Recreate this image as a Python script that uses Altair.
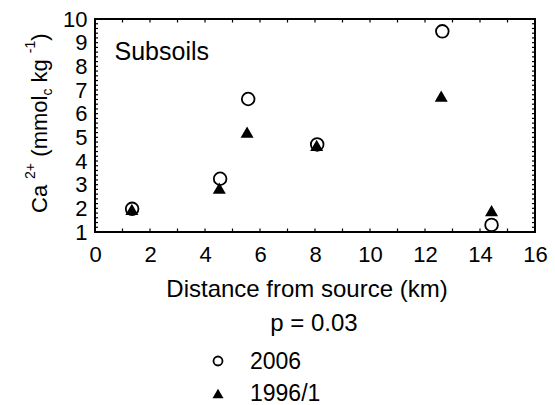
import altair as alt
import pandas as pd

# ---- data ----
dist_2006 = [1.35, 4.55, 5.57, 8.08, 12.63, 14.42]
ca_2006 = [1.98, 3.25, 6.62, 4.70, 9.48, 1.30]
dist_1996 = [1.34, 4.52, 5.53, 8.06, 12.59, 14.42]
ca_1996 = [1.96, 2.85, 5.22, 4.66, 6.74, 1.90]

series_names = ["2006", "1996/1"]
x_labels = [0, 2, 4, 6, 8, 10, 12, 14, 16]
y_labels = [1, 2, 3, 4, 5, 6, 7, 8, 9, 10]
x_minor = list(range(0, 17))
y_minor = [round(1 + 0.2 * i, 1) for i in range(46)]

FONT = "Liberation Sans"
W, H = 440, 213

xs = alt.Scale(domain=[0, 16], nice=False, zero=False)
ys = alt.Scale(domain=[1, 10], nice=False, zero=False)

xaxis = alt.Axis(values=x_labels, tickSize=0, domain=False, grid=False,
                 labelFont=FONT, labelFontSize=22, labelColor="black",
                 labelPadding=12, labelFlush=False, labelAngle=0, title=None)
yaxis = alt.Axis(values=y_labels, tickSize=0, domain=False, grid=False,
                 labelFont=FONT, labelFontSize=22, labelColor="black",
                 labelPadding=8, labelFlush=False, title=None)


def X(f):
    return alt.X(f, scale=xs, axis=xaxis, title=None)


def Y(f):
    return alt.Y(f, scale=ys, axis=yaxis, title=None)


d2006 = pd.DataFrame({"d": dist_2006, "ca": ca_2006})
d1996 = pd.DataFrame({"d": dist_1996, "ca": ca_1996})

circles = alt.Chart(d2006).mark_point(
    shape="circle", filled=False, color="black", strokeWidth=1.8, size=160, opacity=1
).encode(x=X("d:Q"), y=Y("ca:Q"))

triangles = alt.Chart(d1996).mark_point(
    shape="triangle-up", filled=True, color="black", size=169, opacity=1
).encode(x=X("d:Q"), y=Y("ca:Q"))

xt = pd.DataFrame({"v": x_minor})
yt = pd.DataFrame({"v": y_minor})

tick_bottom = alt.Chart(xt).mark_rule(color="black", strokeWidth=1.2).encode(
    x=X("v:Q"), y=alt.value(H), y2=alt.value(H - 3.5))
tick_top = alt.Chart(xt).mark_rule(color="black", strokeWidth=1.2).encode(
    x=X("v:Q"), y=alt.value(0), y2=alt.value(3.5))
tick_left = alt.Chart(yt).mark_rule(color="black", strokeWidth=1.2).encode(
    y=Y("v:Q"), x=alt.value(0), x2=alt.value(3))
tick_right = alt.Chart(yt).mark_rule(color="black", strokeWidth=1.2).encode(
    y=Y("v:Q"), x=alt.value(W), x2=alt.value(W - 3))

one = pd.DataFrame({"a": [0]})


def txt(text, x, y, size, align="left", angle=0):
    kw = dict(text=text, font=FONT, fontSize=size, color="black", align=align,
              baseline="middle")
    if angle:
        kw["angle"] = angle
    return alt.Chart(one).mark_text(**kw).encode(x=alt.value(x), y=alt.value(y))


# y-axis title built from pieces (rotated)
XM, XSUP, XSUB = -55.5, -64, -47
ytitle = [
    txt("Ca", XM, 194, 22, angle=270),
    txt("2+", XSUP, 160, 14, angle=270),
    txt("(mmol", XM, 137.7, 22, angle=270),
    txt("c", XSUB, 76.6, 14, angle=270),
    txt("kg", XM, 63.5, 22, angle=270),
    txt("-1", XSUP, 34.2, 14, angle=270),
    txt(")", XM, 21.8, 22, angle=270),
]

subsoils = txt("Subsoils", 19.5, 32.5, 25)
xtitle = txt("Distance from source (km)", 212, 271, 24, align="center")
ptext = txt("p = 0.03", 219, 305, 24, align="center")

leg_circle = alt.Chart(one).mark_point(
    shape="circle", filled=False, color="black", strokeWidth=1.8, size=81, opacity=1
).encode(x=alt.value(123), y=alt.value(342))
leg_tri = alt.Chart(one).mark_point(
    shape="triangle-up", filled=True, color="black", size=121, opacity=1
).encode(x=alt.value(123), y=alt.value(374.5))
leg_t1 = txt(series_names[0], 155, 343, 23)
leg_t2 = txt(series_names[1], 155, 375, 23)

chart = alt.layer(
    circles, triangles, tick_bottom, tick_top, tick_left, tick_right,
    *ytitle, subsoils, xtitle, ptext, leg_circle, leg_tri, leg_t1, leg_t2,
).properties(
    width=W, height=H,
    autosize=alt.AutoSizeParams(type="none"),
    padding={"left": 95, "top": 19, "right": 20, "bottom": 173},
    background="white",
).configure_view(stroke="black", strokeWidth=2)

chart.save("out.html", embed_options={"renderer": "svg", "actions": False})
